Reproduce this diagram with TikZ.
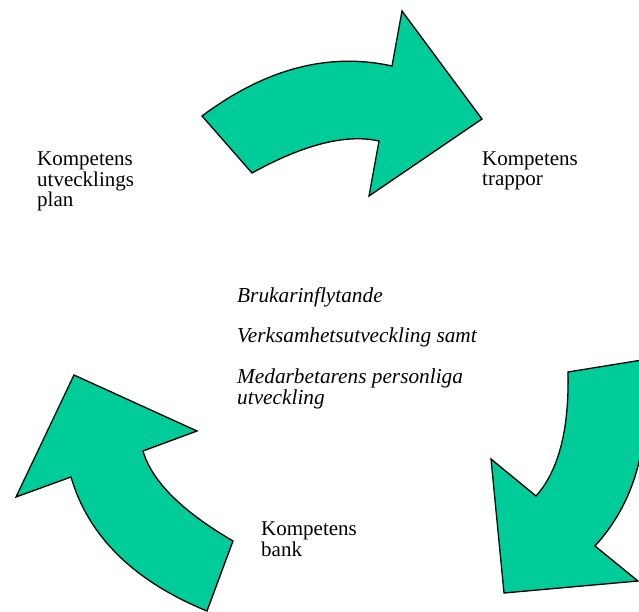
\documentclass[tikz,border=0pt]{standalone}
\usepackage{fontspec}
\setmainfont{Liberation Serif}
\definecolor{arrowgreen}{HTML}{00CC99}
\tikzset{
    cycle arrow/.style = {draw=black, line width=1.3pt, fill=arrowgreen,
                          line join=miter},
    label text/.style  = {anchor=base west, inner sep=0pt, align=left,
                          font=\fontsize{21}{20.5}\selectfont},
    focus text/.style  = {label text,
                          font=\fontsize{21.3}{20.5}\selectfont\itshape}
}

\begin{document}
\begin{tikzpicture}[x=1pt, y=-1pt]
\useasboundingbox (0,0) rectangle (639,612);
\clip (0,0) rectangle (639,612);

% Top arrow, turning towards the right.
\draw[cycle arrow] (202,116) .. controls (265.3,68.7) and (328.7,52) .. (392,66)
    -- (402,11) -- (482,119) -- (369,196) -- (379,141)
    .. controls (346.3,133.7) and (304,144.3) .. (252,173) -- cycle;

% Right arrow, turning downwards (runs past the right border).
\draw[cycle arrow] (642,360) .. controls (652.7,438) and (637,500) .. (595,546)
    -- (638,581) -- (504,593) -- (491,459) -- (536,496)
    .. controls (558.7,470.7) and (569.3,429.3) .. (568,372) -- cycle;

% Left arrow, turning upwards.
\draw[cycle arrow] (207,611) .. controls (133.7,581) and (88.3,536.3) .. (71,477)
    -- (16,497) -- (74,375) -- (197,431) -- (143,451)
    .. controls (151.7,481) and (181.7,511) .. (233,541) -- cycle;

% Stage labels beside the arrows (placed by their last baseline).
\node[label text] (plan) at (37,207) {Kompetens\\utvecklings\\plan};
\node[label text] (trappor) at (482,186) {Kompetens\\trappor};
\node[label text] (bank) at (261,556) {Kompetens\\bank};

% Aims in the middle of the cycle.
\node[focus text] (brukar) at (237,302) {Brukarinflytande};
\node[focus text] (verksamhet) at (237,342) {Verksamhetsutveckling samt};
\node[focus text] (medarbetare) at (237,404)
    {Medarbetarens personliga\\utveckling};

\end{tikzpicture}
\end{document}
